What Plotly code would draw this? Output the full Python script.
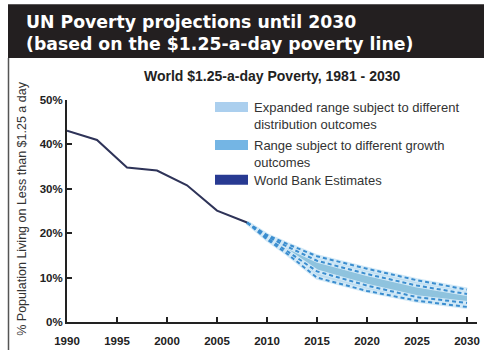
import plotly.graph_objects as go

# ---- data ----
wb_years = [1990, 1993, 1996, 1999, 2002, 2005, 2008]
wb_values = [43.1, 41.0, 34.8, 34.1, 30.8, 25.1, 22.4]

proj_years = [2008, 2010, 2012, 2015, 2020, 2025, 2030]
outer_upper = [22.4, 19.6, 17.6, 14.8, 12.0, 9.4, 7.3]
inner_upper = [22.4, 19.3, 17.0, 13.8, 10.8, 8.2, 6.3]
inner_lower = [22.4, 18.9, 16.0, 11.4, 8.2, 5.6, 4.3]
outer_lower = [22.4, 18.6, 15.4, 10.0, 7.0, 4.8, 3.4]

x_ticks = [1990, 1995, 2000, 2005, 2010, 2015, 2020, 2025, 2030]
y_ticks = [0, 10, 20, 30, 40, 50]
y_ticklabels = ["0%", "10%", "20%", "30%", "40%", "50%"]

main_title = "UN Poverty projections until 2030<br>(based on the $1.25-a-day poverty line)"
chart_title = "World $1.25-a-day Poverty, 1981 - 2030"
y_title = "% Population Living on Less than $1.25 a day"
legend_labels = ["Expanded range subject to different<br>distribution outcomes",
                 "Range subject to different growth<br>outcomes",
                 "World Bank Estimates"]
legend_colors = ["#abcfee", "#74b5e4", "#283a92"]

# ---- layout geometry (pixels) ----
W, H = 484, 350
L, R, T, B = 67, 7, 100, 27.5
pw, ph = W - L - R, H - T - B


def px(x):
    return (x - L) / pw


def py(y):
    return (H - B - y) / ph


SANS = "Liberation Sans, Arial, sans-serif"

fig = go.Figure()

# outer band
fig.add_trace(go.Scatter(x=proj_years, y=outer_lower, mode="lines", line=dict(width=0),
                         showlegend=False, hoverinfo="skip"))
fig.add_trace(go.Scatter(x=proj_years, y=outer_upper, mode="lines", line=dict(width=0),
                         fill="tonexty", fillcolor="#bddcef", showlegend=False, hoverinfo="skip"))
# inner band
fig.add_trace(go.Scatter(x=proj_years, y=inner_lower, mode="lines", line=dict(width=0),
                         showlegend=False, hoverinfo="skip"))
fig.add_trace(go.Scatter(x=proj_years, y=inner_upper, mode="lines", line=dict(width=0),
                         fill="tonexty", fillcolor="#8fc3de", showlegend=False, hoverinfo="skip"))

# dashed boundary lines with a light halo
for ys in (outer_upper, inner_upper, inner_lower, outer_lower):
    fig.add_trace(go.Scatter(x=proj_years, y=ys, mode="lines",
                             line=dict(color="#d2e9f7", width=4),
                             showlegend=False, hoverinfo="skip"))
for ys in (outer_upper, inner_upper, inner_lower, outer_lower):
    fig.add_trace(go.Scatter(x=proj_years, y=ys, mode="lines",
                             line=dict(color="#3a8dcf", width=2, dash="4px,3px"),
                             showlegend=False, hoverinfo="skip"))

# World Bank estimates
fig.add_trace(go.Scatter(x=wb_years, y=wb_values, mode="lines",
                         line=dict(color="#2e3358", width=2),
                         showlegend=False, hoverinfo="skip"))

shapes = []
annotations = []

# dark title bar and left frame line
shapes.append(dict(type="rect", xref="paper", yref="paper",
                   x0=px(8), x1=px(490), y0=py(58), y1=py(4),
                   fillcolor="#231f20", line=dict(width=0), layer="below"))
shapes.append(dict(type="line", xref="paper", yref="paper",
                   x0=px(8.5), x1=px(8.5), y0=py(58), y1=py(352),
                   line=dict(color="#555555", width=1.5)))

annotations.append(dict(text="<b>" + main_title + "</b>", xref="paper", yref="paper",
                        x=px(24), y=py(33), xanchor="left", yanchor="middle",
                        align="left", showarrow=False,
                        font=dict(family="DejaVu Sans, sans-serif",
                                  size=17.3, color="white")))

annotations.append(dict(text="<b>" + chart_title + "</b>", xref="paper", yref="paper",
                        x=px(272), y=py(76), xanchor="center", yanchor="middle",
                        showarrow=False, font=dict(family=SANS, size=14, color="#222222")))

annotations.append(dict(text=y_title, xref="paper", yref="paper",
                        x=px(22), y=py(209), xanchor="center", yanchor="middle",
                        textangle=-90, showarrow=False,
                        font=dict(family=SANS, size=12.5, color="#333333")))

# legend (swatches + labels)
legend_rows = [(107, 107), (145, 145), (180, 180)]
for (sy, ty), lab, col in zip(legend_rows, legend_labels, legend_colors):
    shapes.append(dict(type="rect", xref="paper", yref="paper",
                       x0=px(215), x1=px(248), y0=py(sy - 5), y1=py(sy + 5),
                       fillcolor=col, line=dict(width=0)))
    annotations.append(dict(text=lab, xref="paper", yref="paper",
                            x=px(252), y=py(ty - 9), xanchor="left", yanchor="top",
                            align="left", showarrow=False,
                            font=dict(family=SANS, size=13, color="#333333")))

fig.update_layout(
    width=W, height=H,
    margin=dict(l=L, r=R, t=T, b=B, pad=0, autoexpand=False),
    paper_bgcolor="white", plot_bgcolor="white",
    showlegend=False,
    shapes=shapes, annotations=annotations,
    xaxis=dict(range=[1990, 2031], tickvals=x_ticks, ticks="inside", ticklen=5,
               tickwidth=2, tickcolor="#222222", showline=True, linecolor="#222222",
               linewidth=2, showgrid=False, zeroline=False, ticklabelstandoff=7,
               automargin=False,
               tickfont=dict(family=SANS, size=11.5, color="#222222", weight="bold")),
    yaxis=dict(range=[0, 50], tickvals=y_ticks, ticktext=y_ticklabels, ticks="inside",
               ticklen=5, tickwidth=2, tickcolor="#222222", showline=True,
               linecolor="#222222", linewidth=2, showgrid=False, zeroline=False,
               ticklabelstandoff=0, automargin=False,
               tickfont=dict(family=SANS, size=11.5, color="#222222", weight="bold")),
)

fig.write_html("out.html", config={"displayModeBar": False},
               post_script="document.body.style.margin='0';document.body.style.padding='0';")
